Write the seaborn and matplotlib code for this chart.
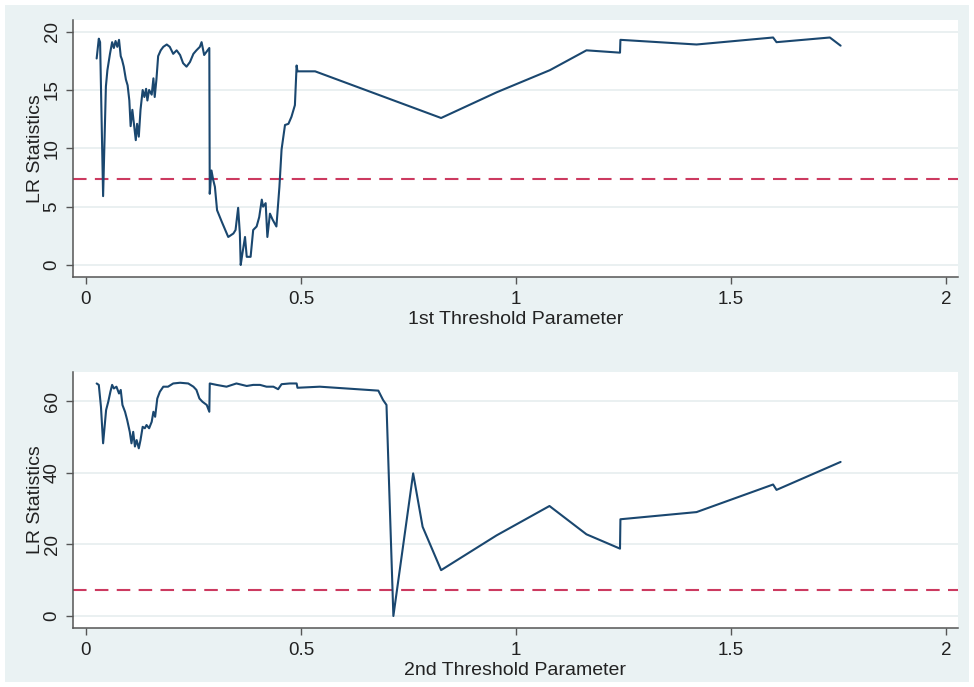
#import all relevant modules

import pandas as pd
import matplotlib
matplotlib.use("Agg")
import matplotlib.pyplot as plt
import seaborn as sns
from matplotlib.patches import Rectangle


# threshold grid and LR statistics for the 1st threshold
thresh1_x = [0.025, 0.030, 0.033, 0.040, 0.0465, 0.050, 0.056, 0.061, 0.065, 0.069,
             0.073, 0.077, 0.081, 0.084, 0.088, 0.093, 0.097, 0.101, 0.104, 0.108,
             0.112, 0.116, 0.119, 0.123, 0.127, 0.132, 0.136, 0.140, 0.143, 0.147,
             0.153, 0.157, 0.160, 0.164, 0.168, 0.174, 0.180, 0.188, 0.195, 0.203,
             0.211, 0.219, 0.226, 0.234, 0.242, 0.250, 0.257, 0.265, 0.269, 0.275,
             0.281, 0.287, 0.288, 0.292, 0.296, 0.300, 0.305, 0.316, 0.331, 0.343,
             0.348, 0.354, 0.358, 0.360, 0.364, 0.370, 0.374, 0.383, 0.389, 0.397,
             0.403, 0.409, 0.412, 0.418, 0.422, 0.428, 0.434, 0.443, 0.450, 0.455,
             0.463, 0.471, 0.478, 0.486, 0.490, 0.492, 0.533, 0.826, 0.955, 1.079,
             1.164, 1.242, 1.243, 1.420, 1.598, 1.606, 1.730, 1.755]
lr1 = [17.7, 19.4, 19.1, 5.9, 15.3, 16.7, 18.1, 19.1, 18.6, 19.2,
       18.7, 19.3, 17.9, 17.6, 17.0, 15.9, 15.4, 14.1, 11.9, 13.3,
       12.0, 10.7, 12.1, 11.0, 13.3, 15.0, 14.4, 15.1, 14.1, 15.0,
       14.6, 16.0, 14.4, 15.9, 17.9, 18.4, 18.7, 18.9, 18.7, 18.1,
       18.4, 18.0, 17.3, 17.0, 17.4, 18.1, 18.4, 18.7, 19.1, 18.0,
       18.3, 18.6, 6.1, 8.1, 7.3, 6.7, 4.7, 3.7, 2.4, 2.7,
       3.0, 4.9, 2.7, 0.0, 1.0, 2.4, 0.7, 0.7, 3.0, 3.3,
       4.1, 5.6, 5.0, 5.3, 2.4, 4.4, 3.9, 3.3, 6.7, 9.9,
       12.0, 12.1, 12.7, 13.7, 17.1, 16.6, 16.6, 12.6, 14.8, 16.7,
       18.4, 18.2, 19.3, 18.9, 19.5, 19.1, 19.5, 18.8]

# threshold grid and LR statistics for the 2nd threshold
thresh2_x = [0.025, 0.030, 0.035, 0.040, 0.047, 0.052, 0.057, 0.061, 0.065, 0.071,
             0.077, 0.081, 0.085, 0.091, 0.096, 0.102, 0.106, 0.110, 0.114, 0.118,
             0.123, 0.127, 0.132, 0.137, 0.141, 0.147, 0.153, 0.157, 0.161, 0.166,
             0.172, 0.180, 0.191, 0.203, 0.219, 0.238, 0.250, 0.257, 0.264, 0.271,
             0.281, 0.287, 0.288, 0.304, 0.327, 0.350, 0.374, 0.389, 0.405, 0.420,
             0.436, 0.447, 0.455, 0.474, 0.490, 0.492, 0.544, 0.680, 0.691, 0.699,
             0.715, 0.761, 0.783, 0.826, 0.955, 1.078, 1.164, 1.242, 1.243, 1.420,
             1.598, 1.606, 1.755]
lr2 = [64.9, 64.5, 58.4, 48.2, 57.5, 59.8, 62.6, 64.5, 63.5, 64.0,
       62.1, 63.1, 58.9, 57.0, 54.7, 51.4, 48.2, 51.4, 47.3, 49.1,
       46.8, 49.1, 52.8, 52.4, 53.3, 52.4, 54.2, 57.0, 55.6, 60.7,
       62.6, 64.0, 64.0, 64.9, 65.1, 64.9, 64.0, 63.1, 60.7, 59.8,
       58.9, 57.0, 64.9, 64.5, 64.0, 64.9, 64.2, 64.5, 64.5, 64.0,
       64.0, 63.3, 64.7, 64.9, 64.9, 63.7, 64.0, 62.9, 60.3, 58.9,
       0.0, 39.8, 24.9, 12.8, 22.5, 30.7, 22.8, 18.8, 27.0, 29.0,
       36.7, 35.2, 43.0]

# 95% critical value (dashed line)
crit_value = 7.35

x_ticks = [0, 0.5, 1, 1.5, 2]
x_tick_labels = ["0", "0.5", "1", "1.5", "2"]
y_ticks_1 = [0, 5, 10, 15, 20]
y_ticks_2 = [0, 20, 40, 60]


# stata-ish colours
BG = "#eaf2f3"
LINE = "#1a476f"
CRIT = "#cc3a60"
TEXT = "#222222"

sns.set_theme(style="white")
plt.rcParams['font.family'] = ['Liberation Sans', 'DejaVu Sans']


def plot_panel(ax, x, y, yticks, ylim, x_label):
    # the LR curve
    df = pd.DataFrame({"thresh": x, "lr": y})
    sns.lineplot(data=df, x="thresh", y="lr", ax=ax, color=LINE, linewidth=1.5,
                 estimator=None, sort=False)

    # critical value
    ax.axhline(crit_value, color=CRIT, linewidth=1.5, dashes=(6.5, 4.0), zorder=1)

    ax.set_facecolor("white")
    ax.set_xlim(-0.030, 2.028)
    ax.set_ylim(*ylim)
    ax.set_xticks(x_ticks)
    ax.set_xticklabels(x_tick_labels)
    ax.set_yticks(yticks)
    ax.set_yticklabels([str(v) for v in yticks], rotation=90, va="center")

    # light horizontal grid only
    ax.yaxis.grid(True, color="#e6eeef", linewidth=1.2)
    ax.xaxis.grid(False)
    ax.set_axisbelow(True)

    for side in ["top", "right"]:
        ax.spines[side].set_visible(False)
    for side in ["left", "bottom"]:
        ax.spines[side].set_color("#555555")
        ax.spines[side].set_linewidth(1.1)

    ax.tick_params(axis="both", which="major", direction="out", length=5, width=1.0,
                   color="#555555", labelsize=13.5, labelcolor=TEXT)
    ax.tick_params(axis="x", bottom=True, left=False, pad=5)
    ax.tick_params(axis="y", left=True, bottom=False, pad=4)

    ax.set_xlabel(x_label, fontsize=14, color=TEXT, labelpad=2)
    ax.set_ylabel("LR Statistics", fontsize=14, color=TEXT, labelpad=0)


fig = plt.figure(figsize=(9.74, 6.87), dpi=100)
fig.patch.set_facecolor("white")
# light blue graph region with a thin white border (behind the axes)
fig.patches.append(Rectangle((5 / 974, 5 / 687), 964 / 974, 677 / 687,
                             transform=fig.transFigure, facecolor=BG,
                             edgecolor="none", zorder=-10))

ax1 = fig.add_axes([73 / 974, 1 - 277 / 687, 885 / 974, 257 / 687])
ax2 = fig.add_axes([73 / 974, 1 - 628 / 687, 885 / 974, 256 / 687])

plot_panel(ax1, thresh1_x, lr1, y_ticks_1, (-1.03, 21.0), "1st Threshold Parameter")
plot_panel(ax2, thresh2_x, lr2, y_ticks_2, (-3.35, 68.1), "2nd Threshold Parameter")

fig.savefig("out.png", dpi=100, facecolor=fig.get_facecolor())
print("saved out.png")
